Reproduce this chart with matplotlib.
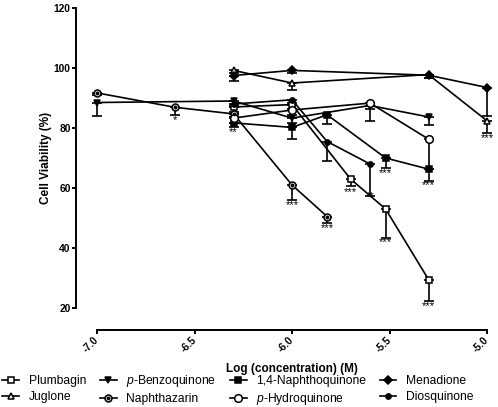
import matplotlib
matplotlib.use("Agg")
import matplotlib.pyplot as plt
import numpy as np
from matplotlib.lines import Line2D

plt.rcParams['font.family'] = ['Liberation Sans', 'DejaVu Sans']
plt.rcParams['mathtext.fontset'] = 'custom'
plt.rcParams['mathtext.rm'] = 'Liberation Sans'
plt.rcParams['mathtext.it'] = 'Liberation Sans:italic'

# log concentration (M), mean viability (%) and lower error (SEM) for each compound
plumbagin_x = [-6.3, -6.0, -5.7, -5.52, -5.3]
plumbagin_y = [87.0, 87.8, 63.0, 53.0, 29.5]
plumbagin_err = [1.5, 1.5, 2.2, 9.7, 7.0]

juglone_x = [-6.3, -6.0, -5.3, -5.0]
juglone_y = [99.2, 95.0, 97.8, 82.4]
juglone_err = [1.0, 2.2, 1.0, 4.1]

benzo_x = [-7.0, -6.3, -6.0, -5.6, -5.3]
benzo_y = [88.5, 89.0, 83.3, 87.5, 83.7]
benzo_err = [4.4, 1.5, 1.5, 1.0, 2.7]

naphthazarin_x = [-7.0, -6.6, -6.3, -6.0, -5.82]
naphthazarin_y = [91.7, 86.9, 84.7, 61.0, 50.5]
naphthazarin_err = [0.8, 2.5, 1.0, 5.0, 2.2]

naphthoquinone_x = [-6.3, -6.0, -5.82, -5.52, -5.3]
naphthoquinone_y = [81.7, 80.2, 84.4, 70.0, 66.3]
naphthoquinone_err = [1.5, 4.0, 3.0, 3.3, 4.0]

hydroquinone_x = [-6.3, -6.0, -5.6, -5.3]
hydroquinone_y = [83.3, 86.0, 88.3, 76.3]
hydroquinone_err = [1.5, 1.5, 5.9, 10.0]

menadione_x = [-6.3, -6.0, -5.3, -5.0]
menadione_y = [97.5, 99.2, 97.6, 93.5]
menadione_err = [1.7, 0.8, 0.8, 9.6]

diosquinone_x = [-6.3, -6.0, -5.82, -5.6]
diosquinone_y = [88.0, 89.4, 75.5, 68.0]
diosquinone_err = [1.0, 1.0, 6.4, 10.8]

# significance marks
sig_x = [-6.6, -6.3, -6.0, -5.82, -5.7, -5.6, -5.52, -5.3, -5.52, -5.3, -5.0]
sig_y = [82.5, 78.5, 54.4, 46.7, 58.7, 57.2, 41.9, 20.8, 65.0, 60.9, 76.7]
sig_text = ["*", "**", "***", "***", "***", "**", "***", "***", "***", "***", "***"]

fig = plt.figure(figsize=(4.98, 4.07), dpi=100)
ax = fig.add_axes([97/498, 99/407, 390/498, 300/407])

def serie(x, y, err, marker, ms, face):
    err = np.array(err)
    ax.errorbar(x, y, yerr=[err, np.zeros_like(err)], fmt='-', color='black',
                lw=1.2, elinewidth=1.2, capsize=3.5, capthick=1.2, zorder=2,
                clip_on=False)
    ax.plot(x, y, linestyle='none', marker=marker, ms=ms, mfc=face, mec='black',
            mew=1.1, zorder=3, clip_on=False)
    return Line2D([], [], color='black', lw=1.2, marker=marker, ms=ms, mfc=face,
                  mec='black', mew=1.1)

handles = []
handles.append(serie(plumbagin_x, plumbagin_y, plumbagin_err, 's', 5, 'white'))
handles.append(serie(juglone_x, juglone_y, juglone_err, '^', 5, 'white'))
handles.append(serie(benzo_x, benzo_y, benzo_err, 'v', 4.5, 'black'))
h = serie(naphthazarin_x, naphthazarin_y, naphthazarin_err, 'o', 5, '#d0d0d0')
ax.plot(naphthazarin_x, naphthazarin_y, linestyle='none', marker='o', ms=1.6,
        color='black', zorder=4, clip_on=False)
handles.append((h, Line2D([], [], linestyle='none', marker='o', ms=1.6, color='black')))
handles.append(serie(naphthoquinone_x, naphthoquinone_y, naphthoquinone_err, 's', 4.5, 'black'))
handles.append(serie(hydroquinone_x, hydroquinone_y, hydroquinone_err, 'o', 5.5, 'white'))
handles.append(serie(menadione_x, menadione_y, menadione_err, 'D', 3.8, 'black'))
handles.append(serie(diosquinone_x, diosquinone_y, diosquinone_err, 'o', 3.8, 'black'))

labels = ['Plumbagin', 'Juglone', r'$\it{p}$-Benzoquinone', 'Naphthazarin',
          '1,4-Naphthoquinone', r'$\it{p}$-Hydroquinone', 'Menadione', 'Diosquinone']

for x, y, t in zip(sig_x, sig_y, sig_text):
    ax.text(x, y, t, ha='center', va='center', fontsize=8)

ax.set_xlim(-7.0, -5.0)
ax.set_ylim(20, 120)
ax.spines['top'].set_visible(False)
ax.spines['right'].set_visible(False)
ax.spines['left'].set_position(('outward', 15))
ax.spines['bottom'].set_position(('outward', 16))
ax.spines['left'].set_linewidth(1.4)
ax.spines['bottom'].set_linewidth(1.4)
ax.tick_params(width=1.4, length=3, pad=1)
ax.tick_params(axis='x', pad=3)
ax.set_xticks([-7.0, -6.5, -6.0, -5.5, -5.0])
ax.set_xticklabels(['-7.0', '-6.5', '-6.0', '-5.5', '-5.0'])
ax.set_yticks([20, 40, 60, 80, 100, 120])
for lab in ax.get_xticklabels():
    lab.set_rotation(45)
    lab.set_ha('right')
    lab.set_va('center')
    lab.set_rotation_mode('anchor')
for lab in ax.get_xticklabels() + ax.get_yticklabels():
    lab.set_fontweight('bold')
    lab.set_fontsize(7.4)

ax.set_ylabel('Cell Viability (%)', fontsize=8.5, fontweight='bold')
ax.yaxis.set_label_coords(-0.115, 0.5)
ax.set_xlabel('Log (concentration) (M)', fontsize=8.5, fontweight='bold', labelpad=6)

fig.legend(handles, labels, ncol=4, loc='upper left', bbox_to_anchor=(0.005, 0.083),
           frameon=False, fontsize=8.7, handlelength=1.4, handletextpad=0.8,
           columnspacing=1.1, labelspacing=0.35, borderpad=0, borderaxespad=0)

fig.savefig('out.png', dpi=100)
